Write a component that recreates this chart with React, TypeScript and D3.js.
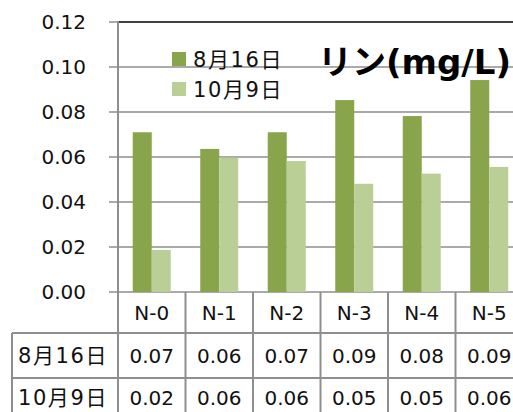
import React from "react";
import * as d3 from "d3";

const categories = ["N-0", "N-1", "N-2", "N-3", "N-4", "N-5"];
const seriesNames = ["8月16日", "10月9日"];
const aug16 = [0.071, 0.0636, 0.071, 0.0853, 0.0782, 0.0942];
const oct9 = [0.0187, 0.0597, 0.0582, 0.0481, 0.0526, 0.0556];
const yTicks = [0, 0.02, 0.04, 0.06, 0.08, 0.1, 0.12];
const title = "リン(mg/L)";

const W = 513;
const H = 412;
const left = 118;
const step = 67.5;
const right = left + step * categories.length;
const top = 22;
const base = 292;
const row1 = 333;
const row2 = 378;
const row3 = 423;
const colors = ["#88A54C", "#BACF96"];
const gridColor = "#8E8E8E";
const font = "'DejaVu Sans', 'Noto Sans CJK JP', sans-serif";

export default function App() {
  const y = d3.scaleLinear().domain([0, 0.12]).range([base, top]);
  const x = d3
    .scaleBand<string>()
    .domain(categories)
    .range([left, right])
    .paddingInner(0.437)
    .paddingOuter(0.2185);
  const sub = d3.scaleBand<string>().domain(seriesNames).range([0, x.bandwidth()]);
  const series = [aug16, oct9];
  const fmt = d3.format(".2f");

  return (
    <svg
      width={W}
      height={H}
      style={{ position: "absolute", left: 0, top: 0, background: "#fff" }}
      fontFamily={font}
    >
      {/* gridlines */}
      {yTicks.map((t) => (
        <g key={t}>
          <line x1={109} x2={right} y1={y(t)} y2={y(t)} stroke={gridColor} strokeWidth={1.6} />
          <text x={86} y={y(t)} dy="0.36em" textAnchor="end" fontSize={20} fill="#111">
            {fmt(t)}
          </text>
        </g>
      ))}
      <line x1={left} x2={right} y1={top} y2={top} stroke="#404040" strokeWidth={2} />
      {/* bars */}
      {series.map((vals, si) =>
        vals.map((v, i) => (
          <rect
            key={`${si}-${i}`}
            x={(x(categories[i]) as number) + (sub(seriesNames[si]) as number)}
            width={sub.bandwidth()}
            y={y(v)}
            height={base - y(v)}
            fill={colors[si]}
          />
        ))
      )}
      {/* axis vertical */}
      <line x1={left} x2={left} y1={top - 1} y2={row3} stroke={gridColor} strokeWidth={2} />
      {/* table */}
      <line x1={12} x2={right} y1={row1} y2={row1} stroke={gridColor} strokeWidth={2} />
      <line x1={12} x2={right} y1={row2} y2={row2} stroke={gridColor} strokeWidth={2} />
      <line x1={12} x2={12} y1={row1} y2={row3} stroke={gridColor} strokeWidth={2} />
      {categories.map((c, i) => (
        <line
          key={c}
          x1={left + step * (i + 1)}
          x2={left + step * (i + 1)}
          y1={base}
          y2={row3}
          stroke={gridColor}
          strokeWidth={2}
        />
      ))}
      {categories.map((c, i) => {
        const cx = (x(c) as number) + x.bandwidth() / 2;
        return (
          <g key={c} fontSize={20} fill="#111" textAnchor="middle">
            <text x={cx} y={(base + row1) / 2} dy="0.36em">{c}</text>
            <text x={cx} y={(row1 + row2) / 2} dy="0.36em">{fmt(aug16[i])}</text>
            <text x={cx} y={(row2 + row3) / 2 - 3} dy="0.36em">{fmt(oct9[i])}</text>
          </g>
        );
      })}
      {seriesNames.map((s, i) => (
        <text key={s} x={63} y={i === 0 ? (row1 + row2) / 2 : (row2 + row3) / 2 - 3} dy="0.36em" fontSize={21} letterSpacing={1.6} fill="#111" textAnchor="middle">
          {s}
        </text>
      ))}
      {/* legend */}
      {seriesNames.map((s, i) => (
        <g key={s}>
          <rect x={172} y={52 + i * 30} width={14} height={14} fill={colors[i]} />
          <text x={193} y={59 + i * 30} dy="0.36em" fontSize={21} letterSpacing={1.6} fill="#111">
            {s}
          </text>
        </g>
      ))}
      <text x={318} y={62} dy="0.36em" fontSize={34} fontWeight="bold" fill="#000">
        {title}
      </text>
    </svg>
  );
}
